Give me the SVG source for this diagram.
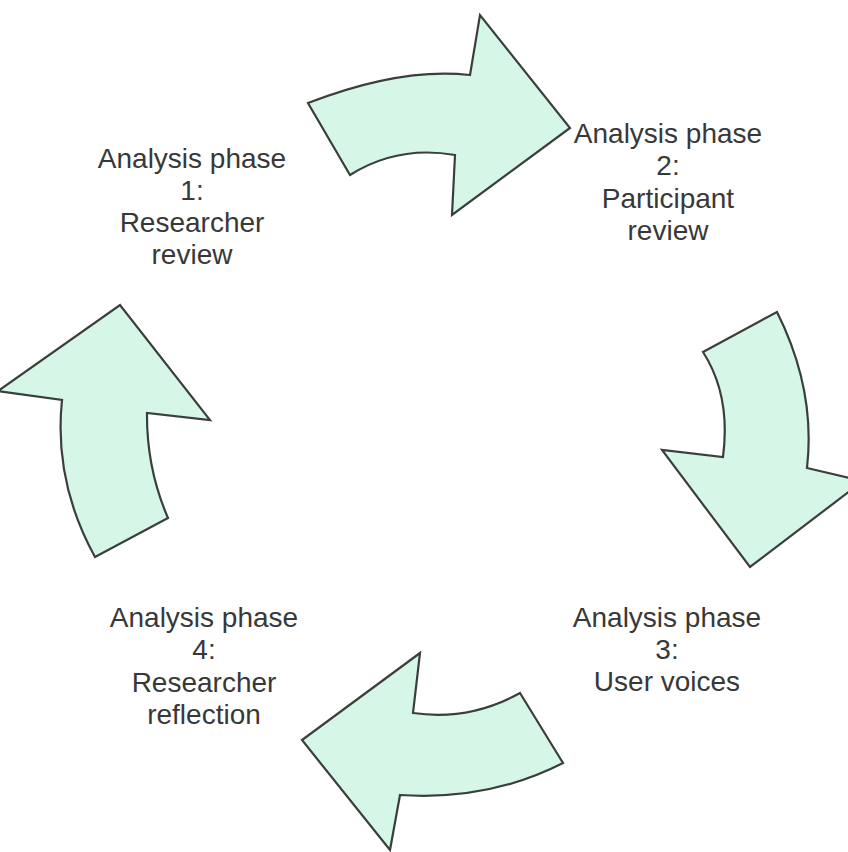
<svg xmlns="http://www.w3.org/2000/svg" width="848" height="852" viewBox="0 0 848 852">
<style>
.arrow{fill:#d6f7e8;stroke:#3a3f3c;stroke-width:2.2;stroke-linejoin:miter}
.lbl{font-family:"Liberation Sans",Arial,sans-serif;font-size:28px;fill:#383838;text-anchor:middle}
</style>
<rect width="848" height="852" fill="#ffffff"/>
<g id="connectors">
<path id="arrow-1-2" class="arrow" d="M308,103 Q401,67 470,75 L480,15 L570,128 L452,215 L455,155 Q397.5,145 350,175 Z"/>
<path id="arrow-2-3" class="arrow" d="M703,352 L777,312 Q816,390 807,468 L863,481 L750,567 L662,450 L723,457 Q731,395.5 703,352 Z"/>
<path id="arrow-3-4" class="arrow" d="M520,693 L563,763 Q488.5,801 400,795 L390,850 L302,740 L420,653 L413,713 Q469.5,721 520,693 Z"/>
<path id="arrow-4-1" class="arrow" d="M95,557 L168,518 Q146.5,468.5 147,413 L210,420 L120,305 L-2,391 L62,400 Q53.5,481.5 95,557 Z"/>
</g>
<g id="phase1">
<text class="lbl" x="192" y="168">Analysis phase</text>
<text class="lbl" x="192" y="200">1:</text>
<text class="lbl" x="192" y="232">Researcher</text>
<text class="lbl" x="192" y="264">review</text>
</g>
<g id="phase2">
<text class="lbl" x="668" y="143">Analysis phase</text>
<text class="lbl" x="668" y="175">2:</text>
<text class="lbl" x="668" y="208">Participant</text>
<text class="lbl" x="668" y="240">review</text>
</g>
<g id="phase3">
<text class="lbl" x="667" y="627">Analysis phase</text>
<text class="lbl" x="667" y="659">3:</text>
<text class="lbl" x="667" y="691">User voices</text>
</g>
<g id="phase4">
<text class="lbl" x="204" y="627">Analysis phase</text>
<text class="lbl" x="204" y="659">4:</text>
<text class="lbl" x="204" y="692">Researcher</text>
<text class="lbl" x="204" y="724">reflection</text>
</g>
</svg>
